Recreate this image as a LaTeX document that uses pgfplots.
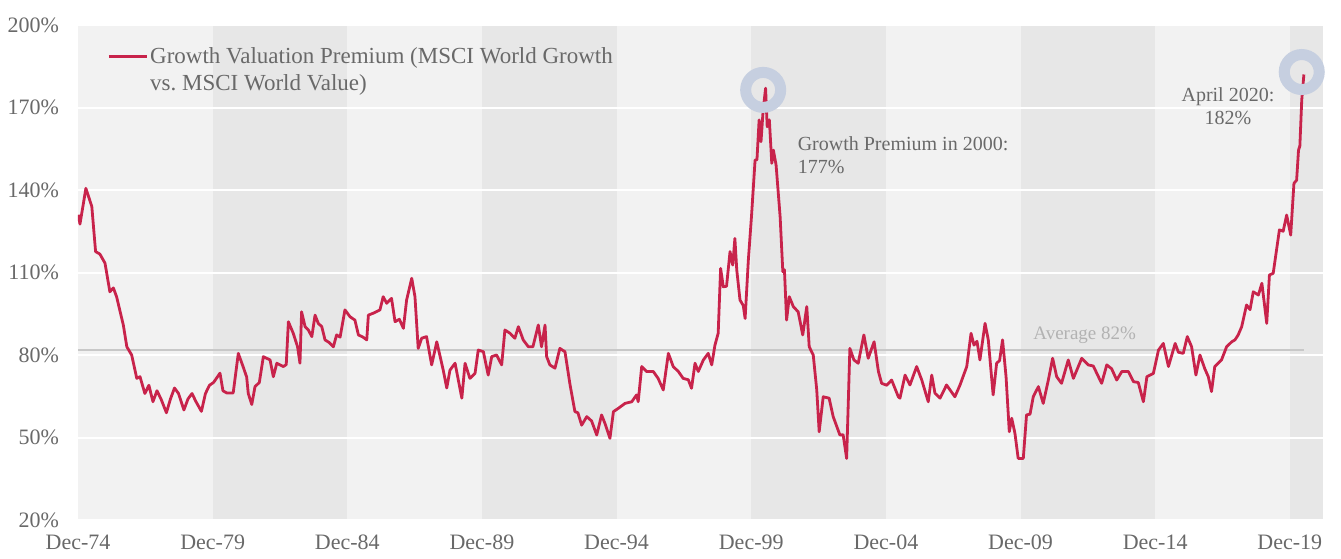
\documentclass[border=0pt]{standalone}
\usepackage{fontspec}
\setmainfont{Liberation Serif}
\usepackage{pgfplots}
\pgfplotsset{compat=1.18}
\definecolor{bglight}{RGB}{242,242,242}
\definecolor{bgdark}{RGB}{231,231,231}
\definecolor{linecol}{RGB}{200,35,75}
\definecolor{txtgray}{RGB}{105,105,105}
\definecolor{avgline}{RGB}{200,200,200}
\definecolor{avgtxt}{RGB}{178,178,178}
\definecolor{ringcol}{RGB}{198,207,224}
\begin{document}
\begin{tikzpicture}
\begin{axis}[
  set layers,
  scale only axis,
  width=622.5pt, height=247.5pt,
  xmin=1974.917, xmax=2021.15,
  ymin=20, ymax=200,
  axis line style={draw=none},
  axis background/.style={fill=bglight},
  major tick length=0pt,
  xtick={1974.917,1979.917,1984.917,1989.917,1994.917,1999.917,2004.917,2009.917,2014.917,2019.917},
  xticklabels={Dec-74,Dec-79,Dec-84,Dec-89,Dec-94,Dec-99,Dec-04,Dec-09,Dec-14,Dec-19},
  ytick={20,50,80,110,140,170,200},
  yticklabels={20\%,50\%,80\%,110\%,140\%,170\%,200\%},
  tick label style={font=\fontsize{11}{13}\selectfont, text=txtgray},
  yticklabel style={xshift=-6pt},
  xticklabel style={yshift=-4pt},
  ymajorgrids,
  major grid style={white, line width=1pt},
  legend style={at={(rel axis cs:0,1)}, anchor=north west, xshift=11.5pt, yshift=-8pt,
    draw=none, fill=none, font=\fontsize{11.5}{13.5}\selectfont, text=txtgray,
    nodes={align=left, inner sep=1pt}},
  legend image code/.code={\draw[#1, line width=1.4pt] (0pt,6.75pt) -- (19pt,6.75pt);},
]
% background bands
\addplot[on layer=axis background, draw=none, fill=bgdark, forget plot] coordinates {(1979.917,20) (1984.917,20) (1984.917,200) (1979.917,200)} -- cycle;
\addplot[on layer=axis background, draw=none, fill=bgdark, forget plot] coordinates {(1989.917,20) (1994.917,20) (1994.917,200) (1989.917,200)} -- cycle;
\addplot[on layer=axis background, draw=none, fill=bgdark, forget plot] coordinates {(1999.917,20) (2004.917,20) (2004.917,200) (1999.917,200)} -- cycle;
\addplot[on layer=axis background, draw=none, fill=bgdark, forget plot] coordinates {(2009.917,20) (2014.917,20) (2014.917,200) (2009.917,200)} -- cycle;
\addplot[on layer=axis background, draw=none, fill=bgdark, forget plot] coordinates {(2019.917,20) (2021.15,20) (2021.15,200) (2019.917,200)} -- cycle;
% average
\addplot[avgline, line width=0.7pt, forget plot] coordinates {(1974.917,81.8) (2020.45,81.8)};
\node[text=avgtxt, font=\fontsize{9.5}{11}\selectfont] at (axis cs:2012.3,87.3) {Average 82\%};
% highlight rings
\addplot[only marks, mark=o, mark size=8.75pt, mark options={draw=ringcol, line width=5.5pt, fill=none}, forget plot]
  coordinates {(2000.36,176.4) (2020.36,182.9)};
% series
\addplot[linecol, line width=1.4pt, line join=round] table {
x y
1974.93 131
1974.99 127.6
1975.21 140.6
1975.43 134
1975.57 117.6
1975.73 116.7
1975.92 113.4
1976.10 103
1976.23 104.4
1976.35 101.2
1976.60 90.9
1976.73 83
1976.91 80
1977.10 71.5
1977.22 72.1
1977.40 66
1977.55 69
1977.70 63
1977.85 67
1978.00 64
1978.20 59
1978.35 64
1978.50 68
1978.65 66
1978.85 60
1979.00 64
1979.15 66
1979.30 63
1979.50 59.5
1979.65 66
1979.80 69
1979.95 70
1980.19 73.4
1980.30 67
1980.44 66.2
1980.68 66.2
1980.87 80.6
1981.05 75.7
1981.18 72
1981.24 66
1981.37 62
1981.49 68.5
1981.65 70
1981.80 79.4
1982.05 78.2
1982.17 72.1
1982.30 77
1982.54 75.8
1982.65 76.5
1982.73 92.1
1982.91 87.9
1983.07 83
1983.16 77
1983.22 95.7
1983.35 90.3
1983.47 89.1
1983.60 86.7
1983.72 94.5
1983.84 91.5
1983.97 90.3
1984.09 85.5
1984.25 84.5
1984.40 83
1984.52 87.3
1984.65 86.5
1984.83 96.4
1985.02 93.9
1985.20 92.7
1985.33 87.3
1985.50 86.5
1985.64 85.5
1985.70 94.5
1985.88 95.2
1986.13 96.4
1986.25 101.2
1986.38 98.8
1986.56 100.6
1986.69 92.1
1986.85 93
1987.00 89.7
1987.12 100
1987.31 107.9
1987.43 101.2
1987.55 82.4
1987.68 86.1
1987.86 86.7
1988.05 76.4
1988.24 84.8
1988.48 74.5
1988.61 68
1988.73 74.5
1988.92 77
1989.17 64.3
1989.29 77
1989.47 71.5
1989.66 73.3
1989.78 81.8
1989.97 81.2
1990.15 72.7
1990.28 79.4
1990.46 80
1990.65 76.4
1990.77 89.1
1990.96 87.9
1991.14 86.1
1991.27 90.3
1991.45 85.5
1991.64 83
1991.81 83
1992.01 90.9
1992.13 83
1992.26 90.9
1992.32 79.4
1992.44 76.4
1992.63 75.2
1992.81 82.4
1993.00 81.2
1993.19 69.1
1993.37 59.4
1993.48 59
1993.62 54.5
1993.81 57.6
1993.99 56
1994.18 50.9
1994.36 58.2
1994.49 55
1994.67 49.7
1994.80 59.4
1994.98 60.6
1995.23 62.4
1995.48 63
1995.66 65.5
1995.72 63
1995.85 75.8
1996.03 74
1996.28 74
1996.46 71.5
1996.65 67.3
1996.84 80.6
1997.02 75.8
1997.21 74
1997.39 71.5
1997.58 71
1997.70 67.9
1997.83 77
1997.95 74
1998.14 78.2
1998.32 80.6
1998.45 76.4
1998.57 83.6
1998.69 87.9
1998.78 111.5
1998.88 104.8
1999.00 105
1999.13 117.6
1999.23 112.7
1999.31 122.4
1999.38 110.9
1999.50 100
1999.62 98
1999.69 93.3
1999.81 114.5
1999.93 130.9
2000.06 150.9
2000.13 151
2000.21 165.5
2000.28 157.6
2000.36 169.1
2000.45 177
2000.51 163
2000.59 165.5
2000.68 149.7
2000.74 154.5
2000.84 149.1
2000.99 130.3
2001.09 110.3
2001.15 111
2001.23 92.7
2001.33 101.2
2001.48 97.6
2001.66 95.7
2001.83 87.3
2001.98 97.6
2002.07 83
2002.22 80
2002.35 67.3
2002.44 52.1
2002.59 64.8
2002.81 64.3
2002.96 57.6
2003.21 50.9
2003.33 51
2003.46 42.4
2003.58 82.4
2003.73 78.2
2003.89 77
2004.10 87.3
2004.26 78.8
2004.48 84.8
2004.64 74
2004.76 69.7
2004.95 69
2005.13 70.9
2005.38 64.8
2005.44 64.3
2005.63 72.7
2005.81 69.1
2006.06 75.8
2006.25 70.9
2006.49 63
2006.62 72.7
2006.74 66.1
2006.93 64.3
2007.17 69.1
2007.48 64.8
2007.67 69.1
2007.92 75.8
2008.08 87.9
2008.19 83.6
2008.30 85
2008.41 78.2
2008.60 91.5
2008.72 85.5
2008.90 65.5
2009.03 77
2009.14 78
2009.25 85.5
2009.38 72.1
2009.50 52.1
2009.59 57
2009.71 51.5
2009.83 42.4
2010.02 42.4
2010.14 58.2
2010.27 58.5
2010.39 64.8
2010.58 68.5
2010.76 62.4
2010.95 70.9
2011.11 78.8
2011.26 72.1
2011.44 69.7
2011.69 78.2
2011.88 71.5
2012.19 78.8
2012.43 76.4
2012.62 76
2012.81 72.1
2012.93 69.7
2013.12 76.4
2013.30 75
2013.49 70.9
2013.68 74
2013.92 74
2014.11 70.3
2014.29 70
2014.48 63
2014.61 72.1
2014.85 73.3
2015.04 81.8
2015.22 84.2
2015.41 75.8
2015.66 84.2
2015.78 81
2015.96 80.6
2016.11 86.7
2016.27 83
2016.43 72.7
2016.58 80
2016.76 75
2016.89 72.1
2017.01 66.7
2017.13 75.8
2017.38 78.2
2017.57 83
2017.76 84.8
2017.88 85.5
2018.00 87.3
2018.13 90.3
2018.31 98.2
2018.44 96.5
2018.56 103
2018.75 101.8
2018.88 106.1
2019.06 91.5
2019.16 109.1
2019.30 109.7
2019.53 125.5
2019.67 125
2019.80 130.9
2019.95 123.6
2020.07 142.4
2020.17 143.6
2020.24 154.5
2020.29 156
2020.36 172.7
2020.44 182
};
\addlegendentry{Growth Valuation Premium (MSCI World Growth\\vs.\ MSCI World Value)}
% annotations
\node[anchor=north west, align=left, text=txtgray, font=\fontsize{10}{11.5}\selectfont, inner sep=0pt] at (axis cs:2001.63,159.5) {Growth Premium in 2000:\\177\%};
\node[anchor=north, align=center, text=txtgray, font=\fontsize{10}{11.5}\selectfont, inner sep=0pt] at (axis cs:2017.62,177.5) {April 2020:\\182\%};
\end{axis}
\pgfresetboundingbox
\path ([shift={(-39pt,-19pt)}]current axis.south west) rectangle ([shift={(9pt,12.5pt)}]current axis.north east);
\end{tikzpicture}
\end{document}
